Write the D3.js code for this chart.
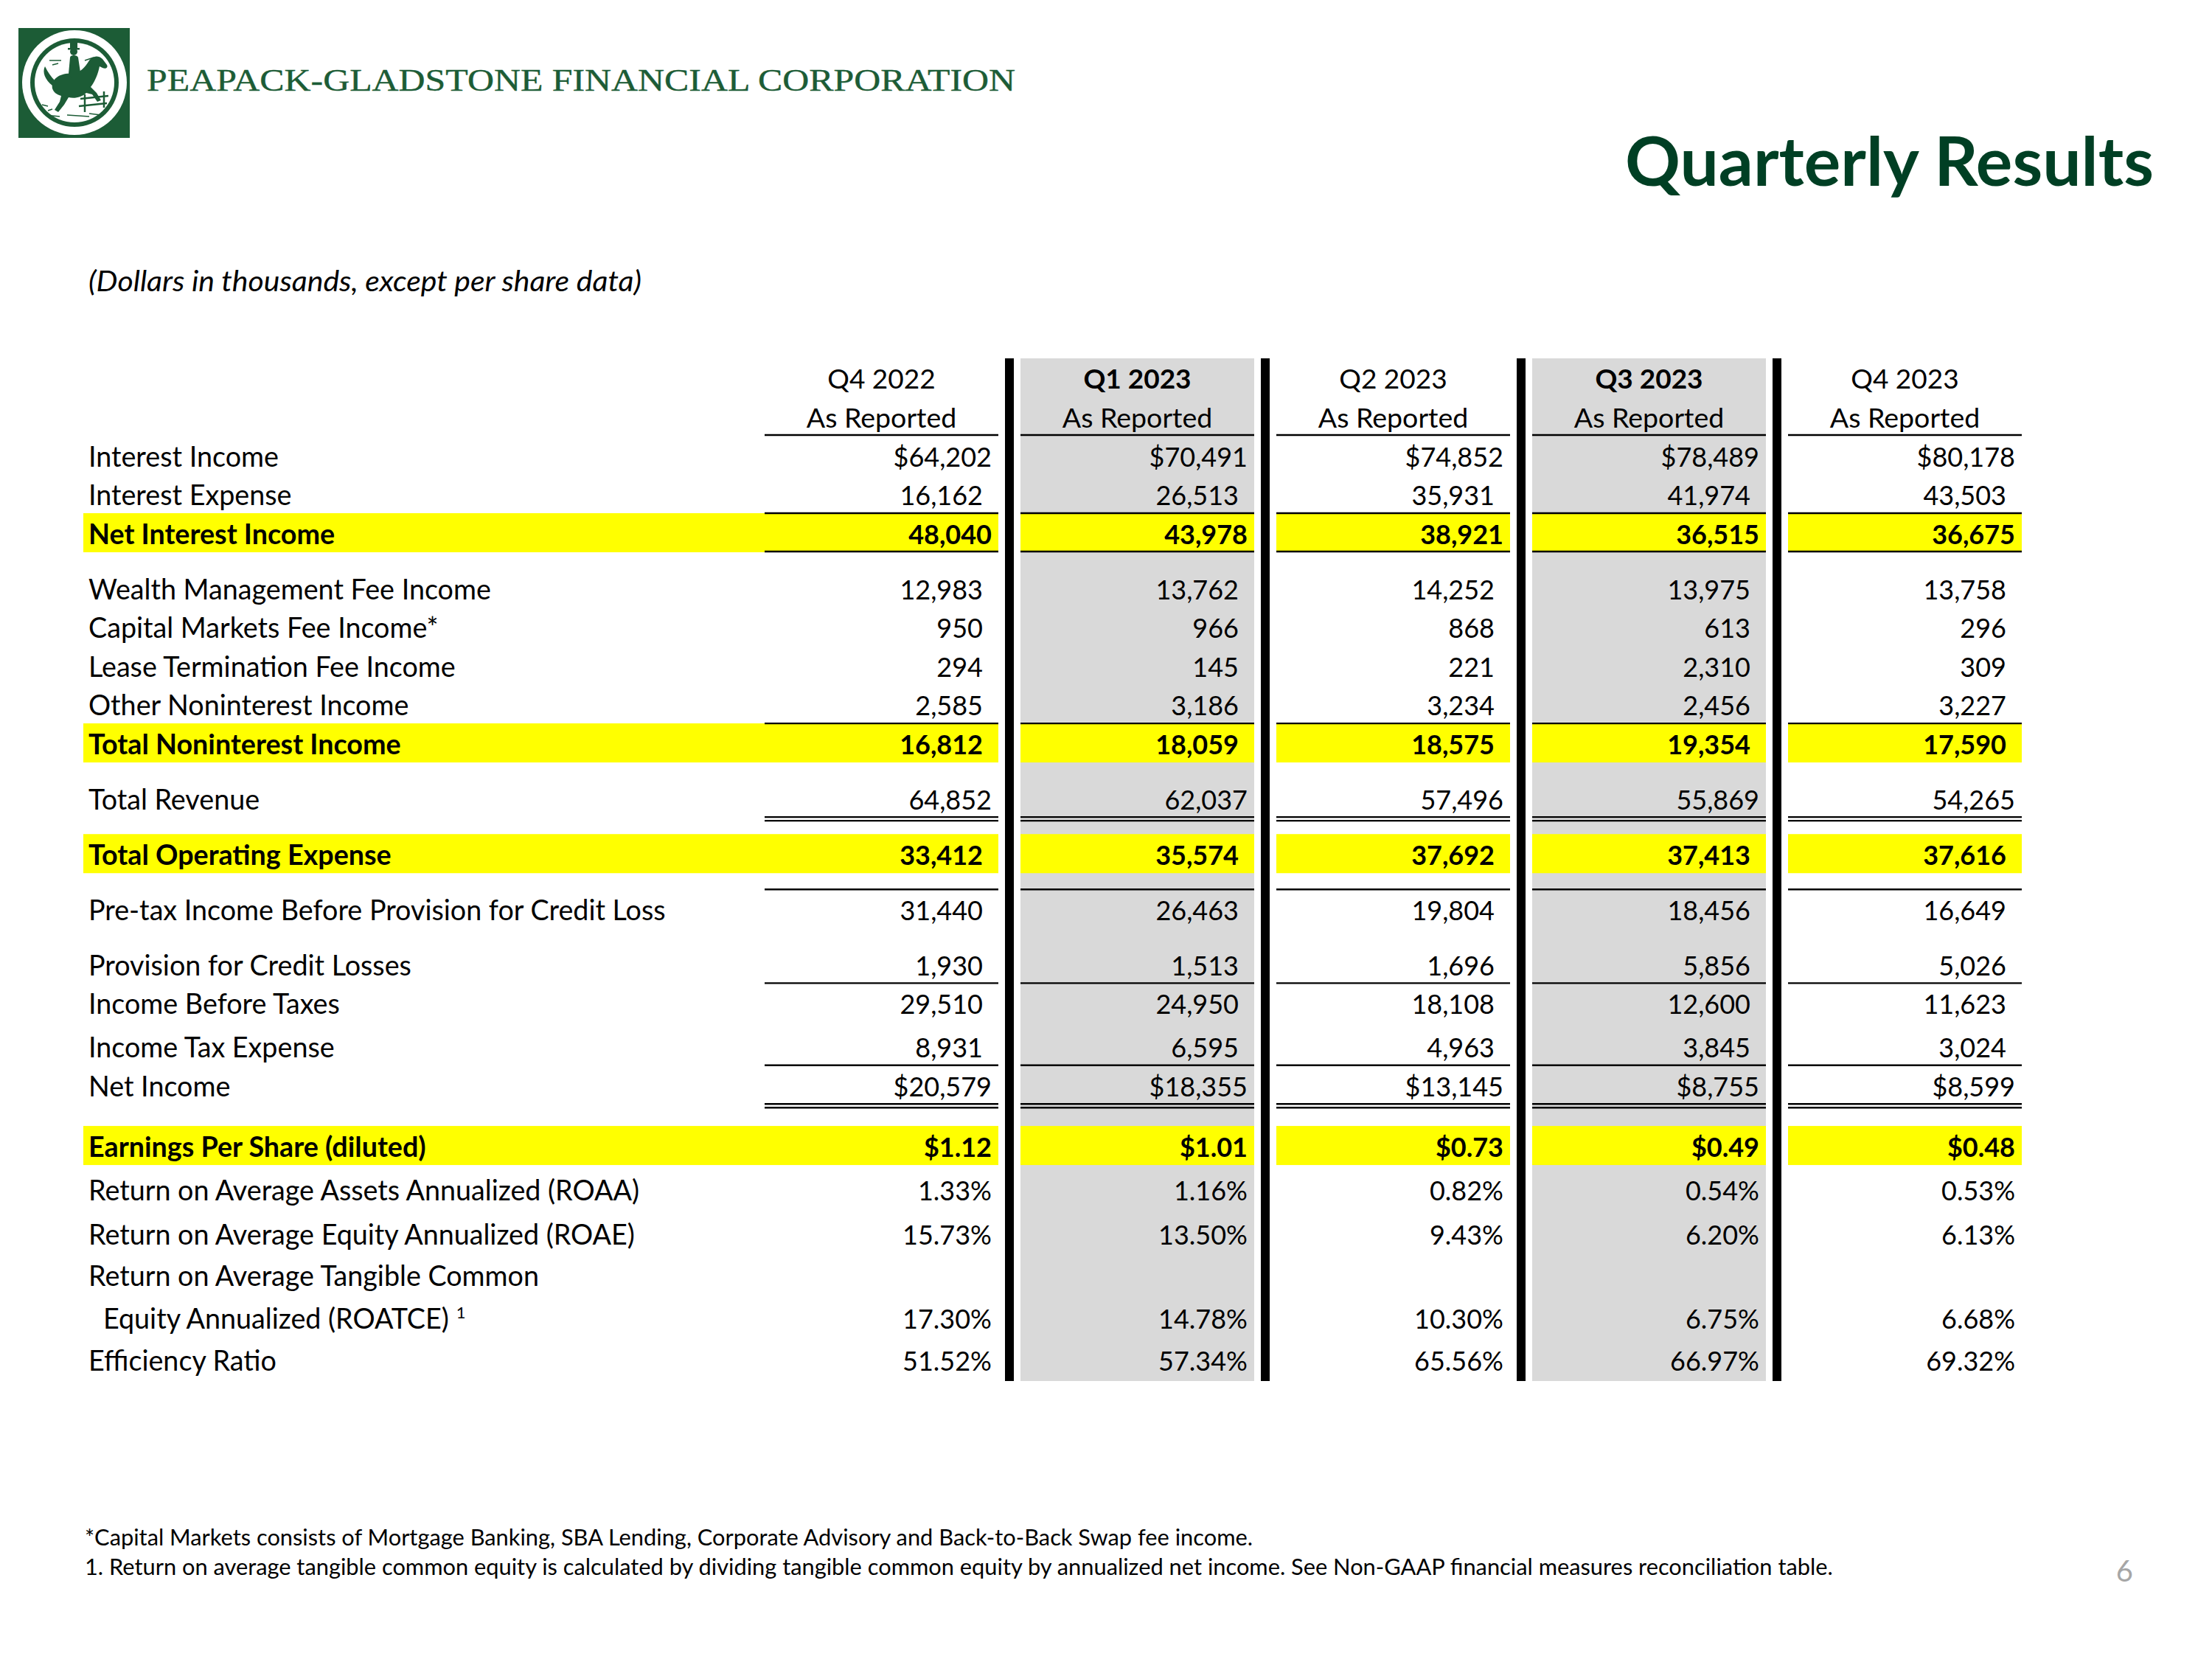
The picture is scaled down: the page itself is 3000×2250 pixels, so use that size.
<!DOCTYPE html>
<html><head><meta charset="utf-8">
<script src="https://cdn.jsdelivr.net/npm/d3@7"></script>
<style>html,body{margin:0;padding:0;background:#fff;} svg{display:block}</style>
</head><body>
<script>
// ---------------- DATA ----------------
const quarters = ["Q4 2022", "Q1 2023", "Q2 2023", "Q3 2023", "Q4 2023"];
const subHeader = "As Reported";
const highlightedQuarters = ["Q1 2023", "Q3 2023"];

const interestIncome       = [64202, 70491, 74852, 78489, 80178];
const interestExpense      = [16162, 26513, 35931, 41974, 43503];
const netInterestIncome    = [48040, 43978, 38921, 36515, 36675];
const wealthMgmtFee        = [12983, 13762, 14252, 13975, 13758];
const capitalMarketsFee    = [950, 966, 868, 613, 296];
const leaseTerminationFee  = [294, 145, 221, 2310, 309];
const otherNoninterest     = [2585, 3186, 3234, 2456, 3227];
const totalNoninterest     = [16812, 18059, 18575, 19354, 17590];
const totalRevenue         = [64852, 62037, 57496, 55869, 54265];
const totalOperatingExp    = [33412, 35574, 37692, 37413, 37616];
const pretaxBeforeProv     = [31440, 26463, 19804, 18456, 16649];
const provisionCredit      = [1930, 1513, 1696, 5856, 5026];
const incomeBeforeTaxes    = [29510, 24950, 18108, 12600, 11623];
const incomeTaxExpense     = [8931, 6595, 4963, 3845, 3024];
const netIncome            = [20579, 18355, 13145, 8755, 8599];
const epsDiluted           = [1.12, 1.01, 0.73, 0.49, 0.48];
const roaa                 = [1.33, 1.16, 0.82, 0.54, 0.53];
const roae                 = [15.73, 13.50, 9.43, 6.20, 6.13];
const roatce               = [17.30, 14.78, 10.30, 6.75, 6.68];
const efficiencyRatio      = [51.52, 57.34, 65.56, 66.97, 69.32];

const rowLabels = [
  "Interest Income", "Interest Expense", "Net Interest Income",
  "Wealth Management Fee Income", "Capital Markets Fee Income*",
  "Lease Termination Fee Income", "Other Noninterest Income",
  "Total Noninterest Income", "Total Revenue", "Total Operating Expense",
  "Pre-tax Income Before Provision for Credit Loss", "Provision for Credit Losses",
  "Income Before Taxes", "Income Tax Expense", "Net Income",
  "Earnings Per Share (diluted)", "Return on Average Assets Annualized (ROAA)",
  "Return on Average Equity Annualized (ROAE)", "Return on Average Tangible Common",
  "  Equity Annualized (ROATCE)", "Efficiency Ratio"
];

const companyName = "PEAPACK-GLADSTONE FINANCIAL CORPORATION";
const titleText = "Quarterly Results";
const subtitleText = "(Dollars in thousands, except per share data)";
const footnotes = [
  "*Capital Markets consists of Mortgage Banking, SBA Lending, Corporate Advisory and Back-to-Back Swap fee income.",
  "1. Return on average tangible common equity is calculated by dividing tangible common equity by annualized net income. See Non-GAAP financial measures reconciliation table."
];
const pageNumber = "6";

// ---------------- TABLE BUILD ----------------
const fmtInt = d3.format(",");
const fmtDol = v => "$" + d3.format(",")(v);
const fmtEps = v => "$" + d3.format(".2f")(v);
const fmtPct = v => d3.format(".2f")(v) + "%";

// row gaps in units of one standard row pitch
const rowGaps = [0,1,1,1.43,1,1,1,1,1.43,1.43,1.43,1.43,1,1.12,1,1.56,1.14,1.13,1.08,1.1,1.09];
const rows = [
  {values: interestIncome, fmt: fmtDol, pad: "far"},
  {values: interestExpense, fmt: fmtInt, pad: "near"},
  {values: netInterestIncome, fmt: fmtInt, pad: "far", bold: true, hl: true, lineAbove: true, lineBelow: true},
  {values: wealthMgmtFee, fmt: fmtInt, pad: "near"},
  {values: capitalMarketsFee, fmt: fmtInt, pad: "near"},
  {values: leaseTerminationFee, fmt: fmtInt, pad: "near"},
  {values: otherNoninterest, fmt: fmtInt, pad: "near"},
  {values: totalNoninterest, fmt: fmtInt, pad: "near", bold: true, hl: true, lineAbove: true},
  {values: totalRevenue, fmt: fmtInt, pad: "far", doubleBelow: true},
  {values: totalOperatingExp, fmt: fmtInt, pad: "near", bold: true, hl: true},
  {values: pretaxBeforeProv, fmt: fmtInt, pad: "near", lineAbove: true},
  {values: provisionCredit, fmt: fmtInt, pad: "near", lineBelow: true},
  {values: incomeBeforeTaxes, fmt: fmtInt, pad: "near"},
  {values: incomeTaxExpense, fmt: fmtInt, pad: "near", lineBelow: true},
  {values: netIncome, fmt: fmtDol, pad: "far", doubleBelow: true},
  {values: epsDiluted, fmt: fmtEps, pad: "far", bold: true, hl: true},
  {values: roaa, fmt: fmtPct, pad: "far"},
  {values: roae, fmt: fmtPct, pad: "far"},
  {values: null},
  {values: roatce, fmt: fmtPct, pad: "far", sup: "1", indent: true},
  {values: efficiencyRatio, fmt: fmtPct, pad: "far"}
].map((r, i) => Object.assign(r, {label: rowLabels[i].trim()}));
const rowUnits = d3.cumsum(rowGaps);

// ---------------- DRAW ----------------
const W = 3000, H = 2250;
const FONT = "Lato, 'Open Sans', sans-serif";
const FS = 36;      // numbers / headers
const FSL = 37.7;   // row labels
const svg = d3.select("body").append("svg").attr("width", W).attr("height", H)
  .style("font-family", FONT);
svg.append("rect").attr("width", W).attr("height", H).attr("fill", "#fff");

const x = d3.scaleBand().domain(quarters).range([1037, 2742]).paddingInner(0.0865);
const bw = x.bandwidth();
const step = x.step();
const y = d3.scaleLinear().domain([0, 1]).range([618, 670.5]);
const cy = i => y(rowUnits[i]);
const tableTop = 486, tableBottom = 1873, labelX = 120, hlLeft = 113;

// Logo
const G = "#1c5c36";
const logo = svg.append("g");
logo.append("rect").attr("x", 25).attr("y", 38).attr("width", 151).attr("height", 149).attr("fill", G);
const lc = logo.append("g").attr("transform", "translate(101,112)");
lc.append("circle").attr("r", 71).attr("fill", "#fff");
lc.append("circle").attr("r", 60).attr("fill", G);
lc.append("circle").attr("r", 54).attr("fill", "#fff");
lc.append("path").attr("fill", G).attr("d",
  "M-30,8 C-32,-6 -18,-14 -2,-12 C8,-14 14,-20 20,-30 C24,-36 32,-38 38,-32 L44,-24 C46,-20 42,-18 38,-20 L34,-22 C32,-12 28,-2 22,6 L30,14 L36,24 L31,26 L24,16 L16,14 C10,20 0,22 -8,20 L-14,30 L-22,40 L-27,37 L-20,26 L-18,18 C-24,16 -28,14 -30,8 Z");
lc.append("path").attr("fill", G).attr("d", "M-30,4 C-40,-4 -44,-14 -40,-22 C-36,-14 -32,-8 -26,-2 Z");
lc.append("path").attr("fill", G).attr("d",
  "M-8,-12 L-6,-34 C-6,-38 4,-38 5,-34 L8,-14 L4,-6 L-4,-6 Z");
lc.append("circle").attr("cx", -1).attr("cy", -42).attr("r", 5).attr("fill", G);
lc.append("rect").attr("x", -6).attr("y", -56).attr("width", 10).attr("height", 10).attr("fill", G);
lc.append("rect").attr("x", -9).attr("y", -47).attr("width", 16).attr("height", 2.5).attr("fill", G);
[[8, 22, 46, 18], [6, 32, 44, 28], [14, 16, 14, 40], [40, 12, 40, 34]].forEach(d => lc.append("line")
  .attr("x1", d[0]).attr("y1", d[1]).attr("x2", d[2]).attr("y2", d[3]).attr("stroke", G).attr("stroke-width", 2.5));
[[-40, 44, -20, 46], [-10, 44, 20, 46], [-30, 36, -36, 38], [20, 42, 36, 44], [-44, 30, -36, 32],
 [-34, -30, -18, -30], [14, -30, 26, -34], [-30, -24, -22, -26]].forEach(d => lc.append("line")
  .attr("x1", d[0]).attr("y1", d[1]).attr("x2", d[2]).attr("y2", d[3]).attr("stroke", G).attr("stroke-width", 1.5));

// Company name
svg.append("text").attr("x", 199).attr("y", 123)
  .attr("font-family", "'Liberation Serif', 'DejaVu Serif', serif").attr("font-size", 43)
  .attr("fill", G).attr("stroke", G).attr("stroke-width", 0.4)
  .attr("textLength", 1178).attr("lengthAdjust", "spacingAndGlyphs")
  .text(companyName);

// Title
svg.append("text").attr("x", 2921).attr("y", 252).attr("text-anchor", "end")
  .attr("font-size", 92).attr("font-weight", 700).attr("fill", "#003f24")
  .attr("textLength", 717).attr("lengthAdjust", "spacingAndGlyphs")
  .text(titleText);

// Subtitle
svg.append("text").attr("x", 120).attr("y", 395).attr("font-size", 38).attr("font-style", "italic")
  .attr("textLength", 750).attr("lengthAdjust", "spacingAndGlyphs")
  .attr("fill", "#000").text(subtitleText);

// Shaded columns
svg.selectAll("rect.shade").data(highlightedQuarters).join("rect").attr("class", "shade")
  .attr("x", d => x(d)).attr("y", tableTop).attr("width", bw).attr("height", tableBottom - tableTop)
  .attr("fill", "#d9d9d9");

// Yellow highlight rows
const hlTop = -27, hlBot = 26;
rows.forEach((r, i) => {
  if (!r.hl) return;
  const c = cy(i);
  svg.append("rect").attr("x", hlLeft).attr("y", c + hlTop).attr("width", x(quarters[0]) - hlLeft)
    .attr("height", hlBot - hlTop).attr("fill", "#ffff00");
  svg.selectAll(null).data(quarters).join("rect")
    .attr("x", d => x(d)).attr("y", c + hlTop).attr("width", bw).attr("height", hlBot - hlTop)
    .attr("fill", "#ffff00");
});

// Horizontal rules
function rule(yy) {
  svg.selectAll(null).data(quarters).join("line")
    .attr("x1", d => x(d)).attr("x2", d => x(d) + bw).attr("y1", yy).attr("y2", yy)
    .attr("stroke", "#000").attr("stroke-width", 2.4);
}
rule(590);
rows.forEach((r, i) => {
  const c = cy(i);
  if (r.lineAbove) rule(c - 27);
  if (r.lineBelow) rule(c + 25);
  if (r.doubleBelow) { rule(c + 25); rule(c + 30); }
});

// Separators
svg.selectAll("rect.sep").data(quarters.slice(0, -1)).join("rect").attr("class", "sep")
  .attr("x", d => x(d) + bw + (step - bw) / 2 - 6).attr("y", tableTop)
  .attr("width", 12).attr("height", tableBottom - tableTop).attr("fill", "#000");

// Header text
svg.selectAll("text.qh").data(quarters).join("text").attr("class", "qh")
  .attr("x", d => x(d) + bw / 2).attr("y", 527).attr("text-anchor", "middle")
  .attr("font-size", FS + 1).attr("font-weight", d => highlightedQuarters.includes(d) ? 700 : 400)
  .text(d => d);
svg.selectAll("text.qs").data(quarters).join("text").attr("class", "qs")
  .attr("x", d => x(d) + bw / 2).attr("y", 580).attr("text-anchor", "middle")
  .attr("font-size", FS + 1.5).text(subHeader);

// Row labels and values
const base = 14.5;
rows.forEach((r, i) => {
  const c = cy(i);
  const t = svg.append("text").attr("x", r.indent ? 140 : labelX).attr("y", c + base)
    .attr("font-size", FSL).attr("font-weight", r.bold ? 700 : 400).text(r.label);
  if (r.sup) t.append("tspan").attr("font-size", 22).attr("dx", 10).attr("dy", -14).text(r.sup);
  if (!r.values) return;
  svg.selectAll(null).data(r.values.map((v, j) => ({v, q: quarters[j]}))).join("text")
    .attr("x", d => x(d.q) + bw - (r.pad === "far" ? 9 : 21)).attr("y", c + base)
    .attr("text-anchor", "end").attr("font-size", FS).attr("font-weight", r.bold ? 700 : 400)
    .text(d => r.fmt(d.v));
});

// Footnotes
svg.append("text").attr("x", 115).attr("y", 2096).attr("font-size", 30.8).text(footnotes[0]);
svg.append("text").attr("x", 115).attr("y", 2136).attr("font-size", 30.8).text(footnotes[1]);

// Page number
svg.append("text").attr("x", 2893).attr("y", 2145).attr("text-anchor", "end")
  .attr("font-size", 40).attr("fill", "#a6a6a6").text(pageNumber);
</script>
</body></html>
